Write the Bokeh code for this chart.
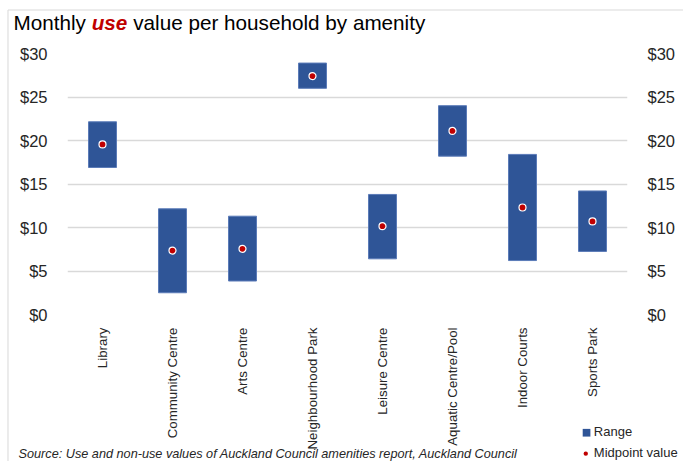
import math
from bokeh.plotting import figure
from bokeh.models import (ColumnDataSource, FactorRange, Range1d, LinearAxis, FixedTicker,
                          NumeralTickFormatter)
from bokeh.core.properties import value
from bokeh.embed import file_html
from bokeh.resources import INLINE

# ---- data ----
amenities = ["Library", "Community Centre", "Arts Centre", "Neighbourhood Park",
             "Leisure Centre", "Aquatic Centre/Pool", "Indoor Courts", "Sports Park"]
range_low = [16.9, 2.5, 3.85, 26.0, 6.4, 18.2, 6.2, 7.25]
range_high = [22.15, 12.15, 11.3, 28.9, 13.8, 24.0, 18.4, 14.2]
midpoint = [19.55, 7.35, 7.55, 27.4, 10.15, 21.1, 12.3, 10.7]
y_ticks = [0, 5, 10, 15, 20, 25, 30]
legend_labels = ["Range", "Midpoint value"]

FONT = "Liberation Sans"
BLUE = "#2F5597"
RED = "#C00000"
TXT = "#262626"
GRID = "#d9d9d9"

src = ColumnDataSource(dict(cat=amenities, low=range_low, high=range_high, mid=midpoint))

p = figure(x_range=FactorRange(*amenities), y_range=Range1d(0, 30),
           frame_width=560, frame_height=261,
           min_border_left=67, min_border_right=56, min_border_top=53, min_border_bottom=147,
           output_backend="svg", toolbar_location=None, background_fill_color="white",
           border_fill_color="white")
p.outline_line_color = None

bars = p.vbar(x="cat", bottom="low", top="high", width=0.4, source=src,
              fill_color=BLUE, line_color="#5b7bb8", line_width=1)
dots = p.scatter(x="cat", y="mid", source=src, size=7, marker="circle",
                 fill_color=RED, line_color="white", line_width=1.2)

# axes
p.xaxis.axis_line_color = None
p.xaxis.major_tick_line_color = None
p.xaxis.minor_tick_line_color = None
p.xaxis.major_label_orientation = math.pi / 2
p.xaxis.major_label_standoff = 7
p.xaxis.major_label_text_font = FONT
p.xaxis.major_label_text_font_size = "13.3px"
p.xaxis.major_label_text_color = TXT
p.xgrid.grid_line_color = None

p.yaxis.ticker = FixedTicker(ticks=y_ticks)
p.yaxis.formatter = NumeralTickFormatter(format="$0")
p.yaxis.axis_line_color = None
p.yaxis.major_tick_line_color = None
p.yaxis.minor_tick_line_color = None
p.yaxis.major_label_standoff = 14
p.yaxis.major_label_text_font = FONT
p.yaxis.major_label_text_font_size = "16.5px"
p.yaxis.major_label_text_color = TXT

right = LinearAxis(ticker=FixedTicker(ticks=y_ticks), formatter=NumeralTickFormatter(format="$0"),
                   axis_line_color=None, major_tick_line_color=None, minor_tick_line_color=None,
                   major_label_standoff=14, major_label_text_font=FONT,
                   major_label_text_font_size="16.5px", major_label_text_color=TXT)
p.add_layout(right, "right")

p.ygrid.ticker = FixedTicker(ticks=y_ticks)
p.ygrid.grid_line_color = GRID
p.ygrid.grid_line_width = 1.5

# ---- texts outside the frame, drawn at overlay level (not clipped) ----
def txt(x, y, s, size, color=TXT, style="normal", baseline="alphabetic"):
    r = p.text(x=[x], y=[y], text=[s], text_font=value(FONT), text_font_size=value(size),
               text_font_style=style, text_color=color, text_baseline=baseline,
               text_align="left")
    r.level = "overlay"
    return r

ty = 33.6
txt(-0.7714, ty, "Monthly", "20.7px", color="black")
txt(0.3457, ty, "use", "20.7px", color=RED, style="bold italic")
txt(0.9386, ty, "value per household by amenity", "20.7px", color="black")

txt(-0.70, -15.98,
    "Source: Use and non-use values of Auckland Council amenities report, Auckland Council",
    "12.7px", style="italic")

# outer chart border (top and left edges visible in the reference)
brd = p.line(x=[-0.85, -0.85, 8.9], y=[-17.5, 35.0, 35.0], line_color=GRID, line_width=1)
brd.level = "overlay"

# legend: square for the range, dot for the midpoint
lg1 = p.line(x=[7.36, 7.47], y=[-13.59, -13.59], line_color=BLUE, line_width=7.7,
             line_cap="butt")
lg1.level = "overlay"
lg2 = p.line(x=[7.403, 7.405], y=[-16.0, -16.0], line_color=RED, line_width=4.2,
             line_cap="round")
lg2.level = "overlay"
txt(7.519, -13.48, legend_labels[0], "13px")
txt(7.519, -15.9, legend_labels[1], "13px")

open("out.html", "w").write(file_html(p, INLINE))
